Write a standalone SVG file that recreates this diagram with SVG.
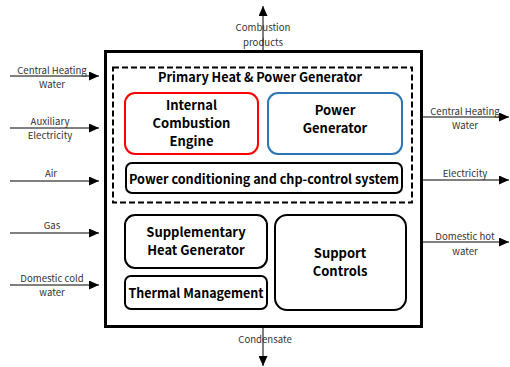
<svg xmlns="http://www.w3.org/2000/svg" width="510" height="367" viewBox="0 0 510 367">
<defs>
<style>
.box{fill:#fff;stroke:#000;stroke-width:2}
.t{font-family:"Noto Sans CJK KR","Open Sans",sans-serif;font-weight:bold;font-size:13px;fill:#000;text-anchor:middle}
.l{font-family:"Noto Sans CJK KR","Open Sans",sans-serif;font-size:9.6px;fill:#333;text-anchor:middle}
.c{stroke:#000;stroke-width:1;fill:none}
</style>
<marker id="ah" markerWidth="10" markerHeight="9" refX="10" refY="4.5" orient="auto" markerUnits="userSpaceOnUse">
<path d="M0,0 L10,4.5 L0,9 Z" fill="#000"/>
</marker>
</defs>
<rect width="510" height="367" fill="#fff"/>
<g id="outer">
<rect x="105.5" y="51.5" width="316" height="275" fill="#fff" stroke="#000" stroke-width="3"/>
</g>
<g id="primary">
<rect x="113" y="67.5" width="299" height="135" fill="none" stroke="#000" stroke-width="2" stroke-dasharray="6 3"/>
<text class="t" x="260" y="82" textLength="204" lengthAdjust="spacingAndGlyphs">Primary Heat &amp; Power Generator</text>
</g>
<g id="ice">
<rect x="125" y="93" width="133" height="61" rx="10" fill="#fff" stroke="#f00" stroke-width="2"/>
<text class="t" x="191.5" y="110">Internal</text>
<text class="t" x="191.5" y="128">Combustion</text>
<text class="t" x="191.5" y="146">Engine</text>
</g>
<g id="pg">
<rect x="268" y="93" width="134" height="61" rx="10" fill="#fff" stroke="#2e75b6" stroke-width="2"/>
<text class="t" x="335" y="115">Power</text>
<text class="t" x="335" y="133">Generator</text>
</g>
<g id="pc">
<rect class="box" x="126" y="163" width="276" height="30" rx="6"/>
<text class="t" x="264" y="183.5" textLength="270" lengthAdjust="spacingAndGlyphs">Power conditioning and chp-control system</text>
</g>
<g id="shg">
<rect class="box" x="125" y="215" width="142" height="53" rx="10"/>
<text class="t" x="196" y="237">Supplementary</text>
<text class="t" x="196" y="255">Heat Generator</text>
</g>
<g id="tm">
<rect class="box" x="125" y="276" width="142" height="33" rx="6"/>
<text class="t" x="196" y="297.5" textLength="135" lengthAdjust="spacingAndGlyphs">Thermal Management</text>
</g>
<g id="sc">
<rect class="box" x="275" y="215" width="131" height="95" rx="12"/>
<text class="t" x="340" y="258">Support</text>
<text class="t" x="340" y="276">Controls</text>
</g>
<g id="connectors">
<line class="c" x1="10" y1="76" x2="99" y2="76" marker-end="url(#ah)"/>
<line class="c" x1="10" y1="128" x2="99" y2="128" marker-end="url(#ah)"/>
<line class="c" x1="10" y1="181" x2="99" y2="181" marker-end="url(#ah)"/>
<line class="c" x1="10" y1="233" x2="99" y2="233" marker-end="url(#ah)"/>
<line class="c" x1="10" y1="285" x2="99" y2="285" marker-end="url(#ah)"/>
<line class="c" x1="422" y1="117" x2="509" y2="117" marker-end="url(#ah)"/>
<line class="c" x1="422" y1="180" x2="509" y2="180" marker-end="url(#ah)"/>
<line class="c" x1="422" y1="242" x2="509" y2="242" marker-end="url(#ah)"/>
<line class="c" x1="263" y1="50" x2="263" y2="6" marker-end="url(#ah)"/>
<line class="c" x1="263" y1="328" x2="263" y2="366" marker-end="url(#ah)"/>
</g>
<g id="labels">
<text class="l" x="52" y="73.5">Central Heating</text>
<text class="l" x="52" y="87.5">Water</text>
<text class="l" x="50" y="124.5">Auxiliary</text>
<text class="l" x="50" y="138.5">Electricity</text>
<text class="l" x="51" y="176.5">Air</text>
<text class="l" x="52" y="228.5">Gas</text>
<text class="l" x="52" y="281.5">Domestic cold</text>
<text class="l" x="52" y="295.5">water</text>
<text class="l" x="465" y="114.5">Central Heating</text>
<text class="l" x="465" y="128.5">Water</text>
<text class="l" x="465" y="176.5">Electricity</text>
<text class="l" x="465" y="239.5">Domestic hot</text>
<text class="l" x="465" y="254.5">water</text>
<text class="l" x="263" y="30.5">Combustion</text>
<text class="l" x="263" y="45.5">products</text>
<text class="l" x="265" y="342.5">Condensate</text>
</g>
</svg>
